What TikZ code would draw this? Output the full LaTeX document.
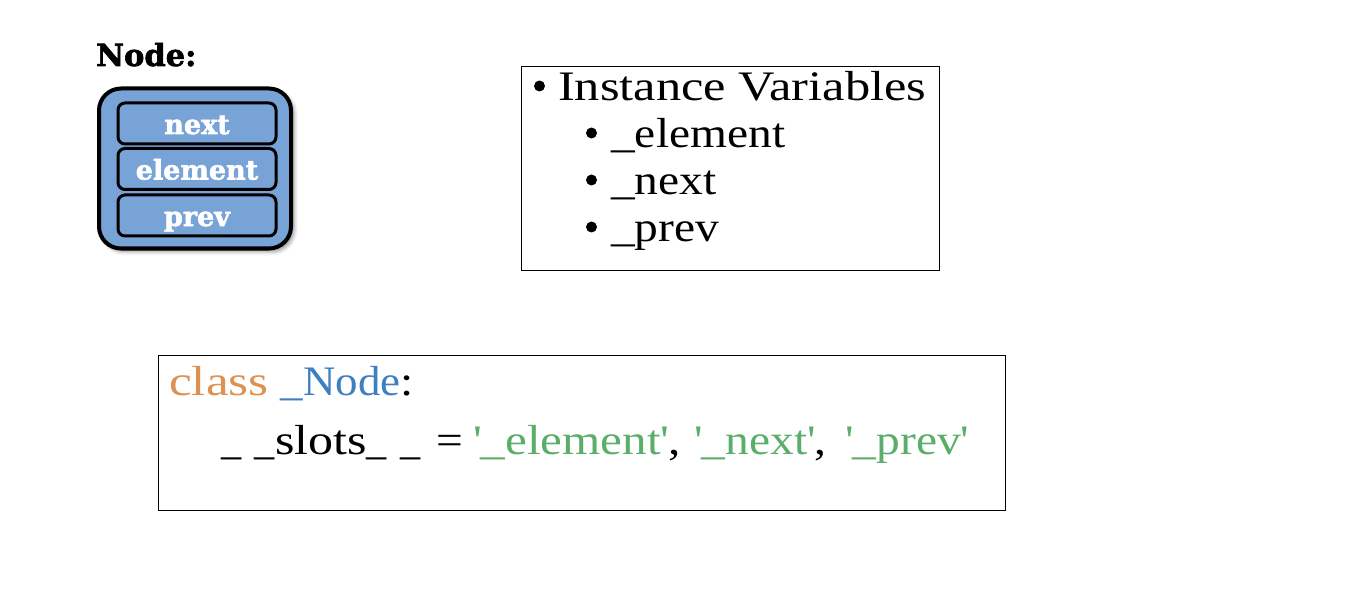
\documentclass[tikz,border=0pt]{standalone}
\usepackage{fontspec}
\usetikzlibrary{shadows,calc,shadows.blur}
\setmainfont{Liberation Serif}
\newfontfamily\bookish[FakeStretch=1.2]{Liberation Serif}
\newfontfamily\booksub[FakeStretch=1.13]{Liberation Serif}
\newfontfamily\codefont[FakeStretch=1.13]{Liberation Serif}
\newfontfamily\elemfont[FakeStretch=1.17]{Liberation Serif}
\newfontfamily\classfont[FakeStretch=1.22]{Liberation Serif}
\newfontfamily\namefont[FakeStretch=1.07]{Liberation Serif}
\newfontfamily\underfont[FakeStretch=0.96]{Liberation Serif}
\newfontfamily\slotsfont[FakeStretch=1.19]{Liberation Serif}
\newfontfamily\heavy[FakeBold=2]{DejaVu Serif Bold}
\definecolor{nodeblue}{HTML}{78A3D6}
\definecolor{kwclass}{HTML}{DD9152}
\definecolor{kwname}{HTML}{3D7FC1}
\definecolor{kwstr}{HTML}{5BAE6A}
\tikzset{
  x=1pt,y=-1pt,
  outerbox/.style={draw=black,line width=4pt,fill=nodeblue,rounded corners=22pt,minimum width=192pt,minimum height=160pt,inner sep=0pt,
    blur shadow={shadow xshift=3pt,shadow yshift=-3pt,shadow blur radius=4pt,shadow opacity=45}},
  field/.style={draw=black,line width=3pt,fill=nodeblue,rounded corners=7pt,minimum width=158pt,minimum height=41pt,inner sep=0pt,
    text=white,text height=25pt,text depth=4pt,font=\heavy\fontsize{27}{27}\selectfont},
  textbox/.style={draw=black,line width=1.2pt,fill=white,inner sep=0pt},
  bulletmark/.style={inner sep=0pt,circle,fill=black,minimum size=11pt},
  listtext/.style={anchor=base west,inner sep=0pt,font=\booksub\fontsize{42}{42}\selectfont},
  codetext/.style={anchor=base west,inner sep=0pt,font=\codefont\fontsize{42}{42}\selectfont},
}
\begin{document}
\begin{tikzpicture}
\useasboundingbox (0,0) rectangle (1352,604);
\node[anchor=base west,inner sep=0pt,font=\heavy\fontsize{30.5}{30}\selectfont] (title) at (96,66) {Node:};
\node[outerbox] (outer) at (195,168.5) {};
\node[field] (next) at (197,123.5) {next};
\node[field] (element) at (197,169) {element};
\node[field] (prev) at (197,215.5) {prev};
\node[textbox,minimum width=418pt,minimum height=204pt] (vars) at (730.5,168.5) {};
\node[bulletmark] (b0) at (539.5,86) {};
\node[bulletmark] (b1) at (591.5,133) {};
\node[bulletmark] (b2) at (591.5,180) {};
\node[bulletmark] (b3) at (591.5,227) {};
\node[listtext,font=\bookish\fontsize{42}{42}\selectfont] (v0) at (558,101) {Instance Variables};
\node[listtext] (v1) at (611,148) {\_element};
\node[listtext] (v2) at (611,195) {\_next};
\node[listtext] (v3) at (611,242) {\_prev};
\node[textbox,minimum width=847pt,minimum height=155pt] (code) at (582,433) {};
\node[codetext] (c0) at (169,395) {{\classfont\textcolor{kwclass}{class}} {\namefont\textcolor{kwname}{\_Node}}:};
\node[codetext] (c1) at (221,454) {{\underfont\_}\hspace{13.5pt}{\underfont\_}{\slotsfont slots}{\underfont\_}\hspace{13.5pt}{\underfont\_}};
\node[codetext] (c2) at (436,454) {=};
\node[codetext,font=\elemfont\fontsize{42}{42}\selectfont] (c3) at (473,454) {\textcolor{kwstr}{\textquotesingle\_element\textquotesingle},};
\node[codetext] (c4) at (694,454) {\textcolor{kwstr}{\textquotesingle\_next\textquotesingle},};
\node[codetext] (c5) at (845,454) {\textcolor{kwstr}{\textquotesingle\_prev\textquotesingle}};
\end{tikzpicture}
\end{document}
